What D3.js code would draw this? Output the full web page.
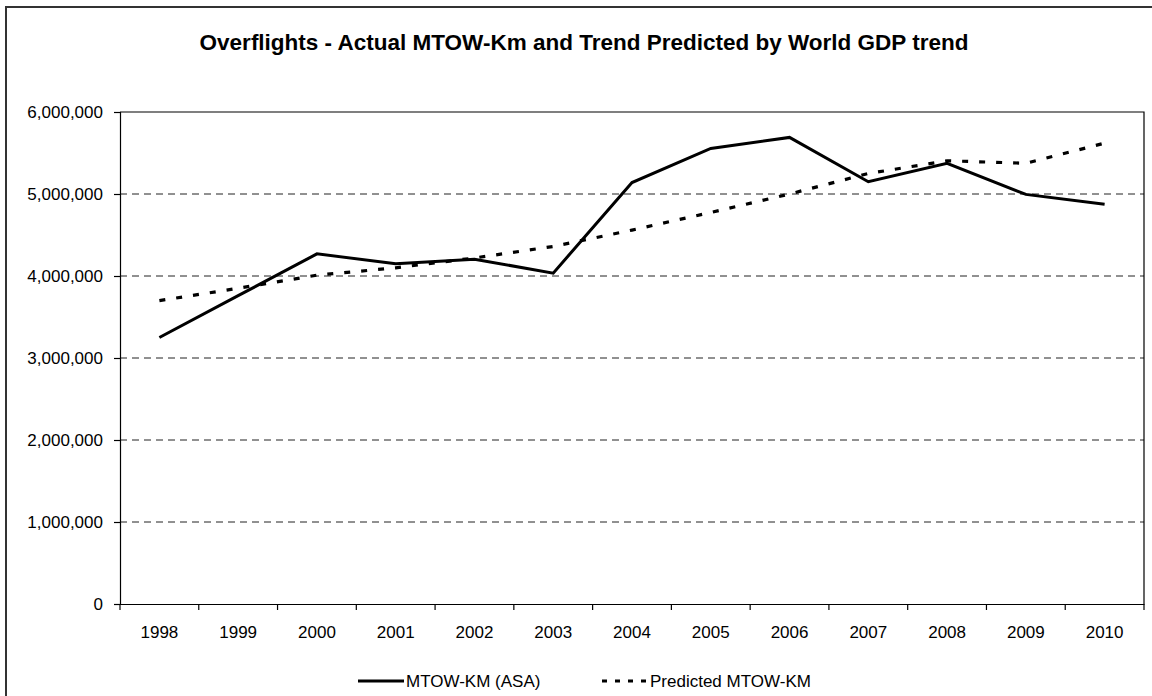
<!DOCTYPE html>
<html>
<head>
<meta charset="utf-8">
<script src="https://cdn.jsdelivr.net/npm/d3@7"></script>
<style>
    body { margin: 0; background: #fff; }
    text { font-family: 'Liberation Sans', Arial, sans-serif; fill: #000; }
</style>
</head>
<body>
<div id="chart"></div>
<script>
const WIDTH = 1152;
const HEIGHT = 696;
const PLOT = { left: 120, top: 112, right: 1144, bottom: 604 };

// Chart data
const YEARS = ['1998', '1999', '2000', '2001', '2002', '2003', '2004', '2005', '2006', '2007', '2008', '2009', '2010'];
const ACTUAL = [3250000, 3760000, 4270000, 4150000, 4205000, 4035000, 5140000, 5555000, 5690000, 5150000, 5375000, 4995000, 4875000];
const PREDICTED = [3700000, 3850000, 4010000, 4100000, 4220000, 4360000, 4560000, 4775000, 5000000, 5250000, 5405000, 5375000, 5620000];
const Y_TICKS = [0, 1000000, 2000000, 3000000, 4000000, 5000000, 6000000];
const TITLE = 'Overflights - Actual MTOW-Km and Trend Predicted by World GDP trend';
const SERIES_NAMES = ['MTOW-KM (ASA)', 'Predicted MTOW-KM'];

const DASH = '6,11';

const svg = d3.select('#chart')
    .append('svg')
    .attr('width', WIDTH)
    .attr('height', HEIGHT);

// Outer frame (runs off the right / bottom edge)
svg.append('rect')
    .attr('x', 6)
    .attr('y', 7)
    .attr('width', 1160)
    .attr('height', 720)
    .style('fill', 'none')
    .style('stroke', '#333')
    .style('stroke-width', 2);

svg.append('text')
    .attr('x', 584)
    .attr('y', 50)
    .style('text-anchor', 'middle')
    .style('font-weight', 'bold')
    .style('font-size', '22.5px')
    .text(TITLE);

const x = d3.scaleBand().domain(YEARS).range([PLOT.left, PLOT.right]);
const y = d3.scaleLinear().domain([0, 6000000]).range([PLOT.bottom, PLOT.top]);

// Gridlines
svg.append('g')
    .selectAll('line')
    .data(Y_TICKS.filter(d => d > 0 && d < 6000000))
    .enter()
    .append('line')
    .attr('x1', PLOT.left)
    .attr('x2', PLOT.right)
    .attr('y1', d => y(d))
    .attr('y2', d => y(d))
    .style('stroke', '#222')
    .style('stroke-width', 1)
    .style('stroke-dasharray', '7,5');

// Plot border (top + right)
svg.append('path')
    .attr('d', `M${PLOT.left},${y(6000000)}H${PLOT.right}V${PLOT.bottom}`)
    .style('fill', 'none')
    .style('stroke', '#000')
    .style('stroke-width', 1.2);

// Y axis
const yAxis = svg.append('g')
    .attr('transform', `translate(${PLOT.left},0)`)
    .call(d3.axisLeft(y)
        .tickValues(Y_TICKS)
        .tickSize(6)
        .tickPadding(11)
        .tickFormat(d3.format(',')));
yAxis.selectAll('text').style('font-size', '17px');
yAxis.selectAll('line, path').style('stroke', '#000').style('stroke-width', 1.2);

// X axis: labels centred, ticks on category boundaries
const xAxis = svg.append('g')
    .attr('transform', `translate(0,${PLOT.bottom})`)
    .call(d3.axisBottom(x).tickSize(0).tickPadding(22));
xAxis.select('.domain').style('stroke', '#000').style('stroke-width', 1.2);
xAxis.selectAll('text').style('font-size', '17px');

xAxis.selectAll('line.bound')
    .data(YEARS.map(d => x(d)).concat([x(YEARS[YEARS.length - 1]) + x.bandwidth()]))
    .enter()
    .append('line')
    .attr('class', 'bound')
    .attr('x1', d => d)
    .attr('x2', d => d)
    .attr('y1', 0)
    .attr('y2', 6)
    .style('stroke', '#000')
    .style('stroke-width', 1.2);

// Lines
const valueline = d3.line()
    .x((d, i) => x(YEARS[i]) + x.bandwidth() / 2)
    .y(d => y(d));

svg.append('path')
    .datum(PREDICTED)
    .attr('d', valueline)
    .style('fill', 'none')
    .style('stroke', '#000')
    .style('stroke-width', 3.2)
    .style('stroke-dasharray', DASH);

svg.append('path')
    .datum(ACTUAL)
    .attr('d', valueline)
    .style('fill', 'none')
    .style('stroke', '#000')
    .style('stroke-width', 3);

// Legend
const legend = [
    { name: SERIES_NAMES[0], x: 358, dash: null, width: 3 },
    { name: SERIES_NAMES[1], x: 602, dash: '5,8', width: 3.2 },
];
legend.forEach(item => {
    svg.append('line')
        .attr('x1', item.x)
        .attr('x2', item.x + 46)
        .attr('y1', 681)
        .attr('y2', 681)
        .style('stroke', '#000')
        .style('stroke-width', item.width)
        .style('stroke-dasharray', item.dash);
    svg.append('text')
        .attr('x', item.x + 48)
        .attr('y', 687)
        .style('font-size', '17px')
        .text(item.name);
});
</script>
</body>
</html>
